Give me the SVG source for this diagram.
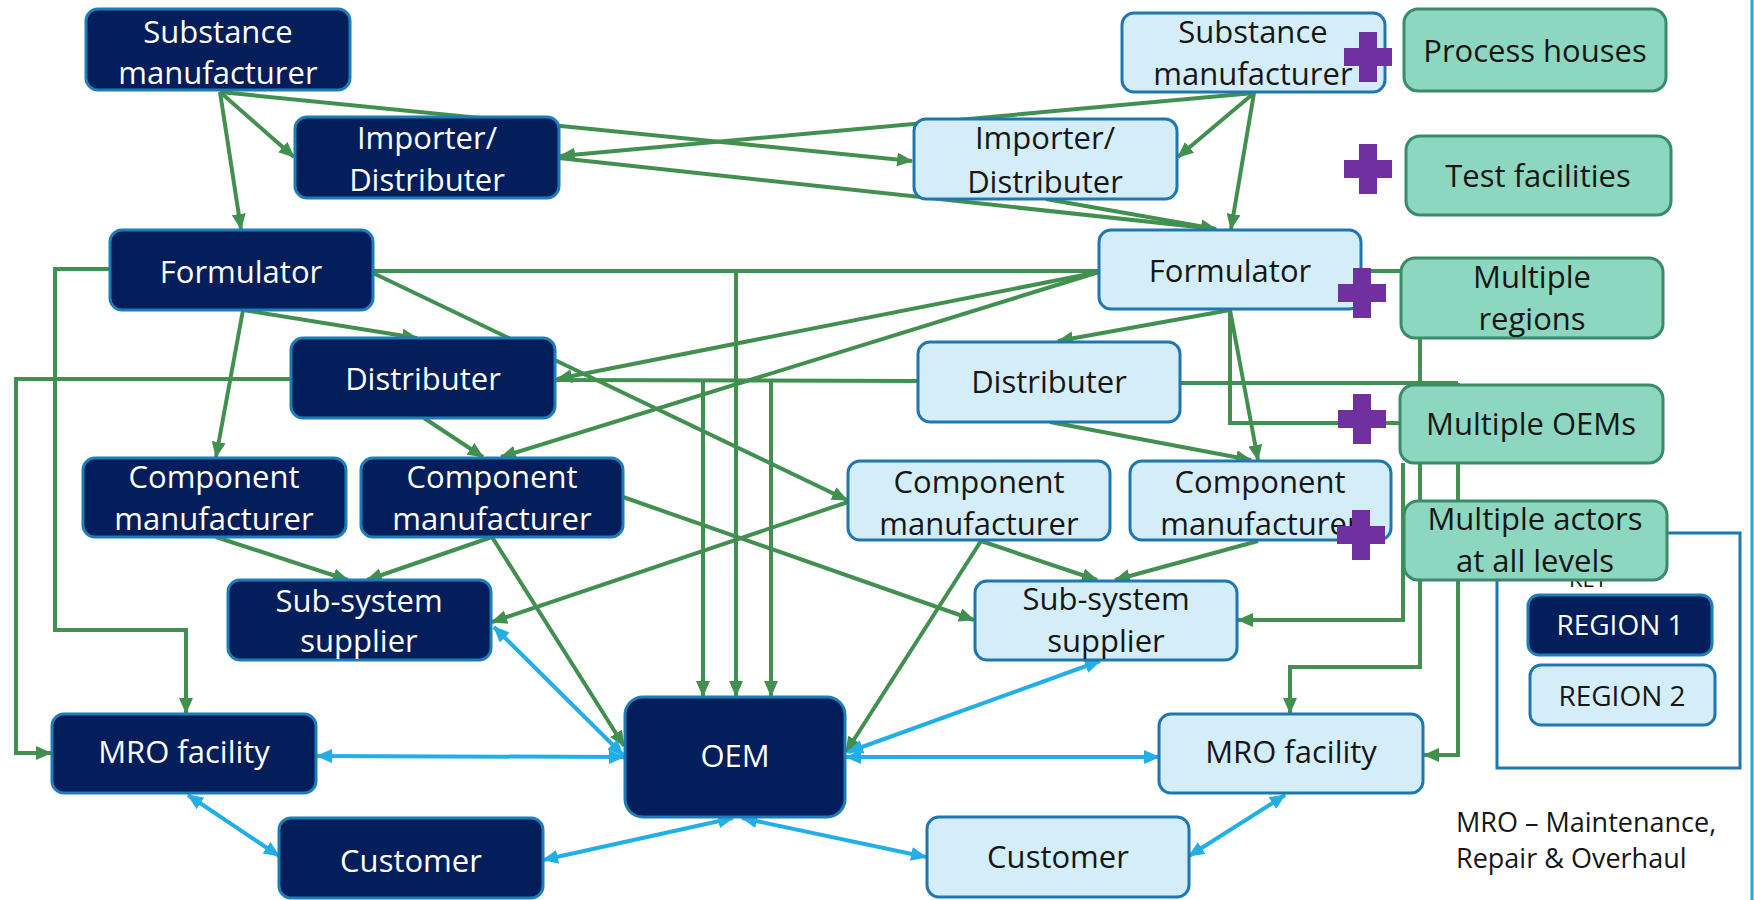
<svg xmlns="http://www.w3.org/2000/svg" width="1754" height="900" viewBox="0 0 1754 900">
<style>
.r1{fill:#031E5B;stroke:#1C7DB8;stroke-width:3}
.r2{fill:#D4EEF9;stroke:#1F77B2;stroke-width:3}
.gb{fill:#8DD6BF;stroke:#3A8C68;stroke-width:3}
.t{font-family:"Open Sans","DejaVu Sans",sans-serif;font-size:31px;text-anchor:middle}
.tw{fill:#FFFFFF}
.tk{fill:#161616}
.g{fill:none;stroke:#41904F;stroke-width:4}
.ga{fill:none;stroke:#41904F;stroke-width:4;marker-end:url(#ag)}
.b{fill:none;stroke:#22AEE6;stroke-width:4;marker-start:url(#ab);marker-end:url(#ab)}
.k{font-family:"Open Sans","DejaVu Sans",sans-serif;font-size:28px;text-anchor:middle}
.ky{font-family:"Open Sans","DejaVu Sans",sans-serif;font-size:22px;text-anchor:middle}
.leg{font-family:"Open Sans","DejaVu Sans",sans-serif;font-size:27px;fill:#161616}
.cross{fill:#7030A0}
</style>
<defs>
<marker id="ag" viewBox="0 0 16 14" refX="15" refY="7" markerWidth="16" markerHeight="14" markerUnits="userSpaceOnUse" orient="auto"><path d="M0,0 L16,7 L0,14 z" fill="#41904F"/></marker>
<marker id="ab" viewBox="0 0 16 14" refX="15" refY="7" markerWidth="16" markerHeight="14" markerUnits="userSpaceOnUse" orient="auto-start-reverse"><path d="M0,0 L16,7 L0,14 z" fill="#22AEE6"/></marker>
<path id="crs" d="M-9,-25 h18 v16 h15 v18 h-15 v16 h-18 v-16 h-15 v-18 h15 z"/>
</defs>
<rect x="0" y="0" width="1754" height="900" fill="#FFFFFF"/>
<line x1="1752" y1="0" x2="1752" y2="900" stroke="#22A8E2" stroke-width="3"/>

<g id="connectors">
<path class="ga" d="M220,92 L241,229"/>
<path class="ga" d="M220,92 L294,157"/>
<path class="ga" d="M220,92 L912,161"/>
<path class="ga" d="M1254,93 L560,156"/>
<path class="ga" d="M559,158 L1216,229"/>
<path class="ga" d="M1254,93 L1178,157"/>
<path class="ga" d="M1254,93 L1231,229"/>
<path class="ga" d="M1046,199 L1216,229"/>
<path class="ga" d="M243,310 L417,338"/>
<path class="ga" d="M243,310 L216,457"/>
<path class="g" d="M373,271 L1099,271"/>
<path class="ga" d="M736,271 L736,696"/>
<path class="ga" d="M373,273 L847,500"/>
<path class="ga" d="M110,269 L55,269 L55,630 L186,630 L186,713"/>
<path class="ga" d="M291,379 L16,379 L16,753 L51,753"/>
<path class="ga" d="M424,418 L483,457"/>
<path class="g" d="M555,380 L918,381"/>
<path class="ga" d="M703,381 L703,696"/>
<path class="ga" d="M771,381 L771,696"/>
<path class="ga" d="M1099,272 L557,379"/>
<path class="ga" d="M1099,272 L501,457"/>
<path class="ga" d="M216,537 L348,580"/>
<path class="ga" d="M492,537 L367,580"/>
<path class="ga" d="M492,537 L624,746"/>
<path class="ga" d="M623,497 L974,620"/>
<path class="ga" d="M848,502 L492,622"/>
<path class="ga" d="M981,541 L846,752"/>
<path class="ga" d="M981,541 L1097,580"/>
<path class="ga" d="M1258,541 L1115,580"/>
<path class="ga" d="M1230,310 L1058,341"/>
<path class="ga" d="M1230,310 L1258,460"/>
<path class="g" d="M1230,310 L1230,423 L1401,423"/>
<path class="g" d="M1361,271 L1401,271"/>
<path class="ga" d="M1050,422 L1251,460"/>
<path class="g" d="M1180,383 L1458,383"/>
<path class="ga" d="M1420,338 L1420,667 L1290,667 L1290,713"/>
<path class="ga" d="M1458,383 L1458,755 L1424,755"/>
<path class="ga" d="M1403,463 L1403,620 L1238,620"/>
<path class="b" d="M494,627 L623,755"/>
<path class="b" d="M317,756 L624,757"/>
<path class="b" d="M188,795 L279,856"/>
<path class="b" d="M543,860 L733,818"/>
<path class="b" d="M742,818 L926,857"/>
<path class="b" d="M846,757 L1159,757"/>
<path class="b" d="M848,752 L1100,661"/>
<path class="b" d="M1285,795 L1189,856"/>
</g>

<g id="key">
<rect x="1497" y="533" width="243" height="235" fill="none" stroke="#1F77B2" stroke-width="3"/>
<text class="ky tk" x="1588" y="587">KEY</text>
</g>
<g id="region1-key"><rect class="r1" x="1528" y="595" width="184" height="60" rx="11"/><text class="k tw" x="1620" y="635">REGION 1</text></g>
<g id="region2-key"><rect class="r2" x="1530" y="665" width="185" height="60" rx="11"/><text class="k tk" x="1622" y="706">REGION 2</text></g>

<g id="r1-substance"><rect class="r1" x="86" y="9" width="264" height="81" rx="12"/><text class="t tw" x="218" y="43">Substance</text><text class="t tw" x="218" y="84">manufacturer</text></g>
<g id="r1-importer"><rect class="r1" x="295" y="117" width="264" height="81" rx="12"/><text class="t tw" x="427" y="149">Importer/</text><text class="t tw" x="427" y="191">Distributer</text></g>
<g id="r1-formulator"><rect class="r1" x="110" y="230" width="263" height="80" rx="12"/><text class="t tw" x="241" y="283">Formulator</text></g>
<g id="r1-distributer"><rect class="r1" x="291" y="338" width="264" height="80" rx="12"/><text class="t tw" x="423" y="390">Distributer</text></g>
<g id="r1-component1"><rect class="r1" x="83" y="458" width="263" height="79" rx="12"/><text class="t tw" x="214" y="488">Component</text><text class="t tw" x="214" y="530">manufacturer</text></g>
<g id="r1-component2"><rect class="r1" x="361" y="458" width="262" height="79" rx="12"/><text class="t tw" x="492" y="488">Component</text><text class="t tw" x="492" y="530">manufacturer</text></g>
<g id="r1-subsystem"><rect class="r1" x="228" y="580" width="263" height="80" rx="12"/><text class="t tw" x="359" y="612">Sub-system</text><text class="t tw" x="359" y="652">supplier</text></g>
<g id="r1-mro"><rect class="r1" x="52" y="714" width="264" height="79" rx="12"/><text class="t tw" x="184" y="763">MRO facility</text></g>
<g id="oem"><rect class="r1" x="625" y="697" width="220" height="120" rx="18"/><text class="t tw" x="735" y="767">OEM</text></g>
<g id="r1-customer"><rect class="r1" x="279" y="818" width="264" height="80" rx="12"/><text class="t tw" x="411" y="872">Customer</text></g>

<g id="r2-substance"><rect class="r2" x="1122" y="13" width="263" height="79" rx="12"/><text class="t tk" x="1253" y="43">Substance</text><text class="t tk" x="1253" y="85">manufacturer</text></g>
<g id="r2-importer"><rect class="r2" x="914" y="119" width="263" height="80" rx="12"/><text class="t tk" x="1045" y="149">Importer/</text><text class="t tk" x="1045" y="193">Distributer</text></g>
<g id="r2-formulator"><rect class="r2" x="1099" y="230" width="262" height="79" rx="12"/><text class="t tk" x="1230" y="282">Formulator</text></g>
<g id="r2-distributer"><rect class="r2" x="918" y="342" width="262" height="80" rx="12"/><text class="t tk" x="1049" y="393">Distributer</text></g>
<g id="r2-component-a"><rect class="r2" x="848" y="461" width="262" height="79" rx="12"/><text class="t tk" x="979" y="493">Component</text><text class="t tk" x="979" y="535">manufacturer</text></g>
<g id="r2-component-b"><rect class="r2" x="1130" y="461" width="261" height="79" rx="12"/><text class="t tk" x="1260" y="493">Component</text><text class="t tk" x="1260" y="535">manufacturer</text></g>
<g id="r2-subsystem"><rect class="r2" x="975" y="581" width="262" height="79" rx="12"/><text class="t tk" x="1106" y="610">Sub-system</text><text class="t tk" x="1106" y="652">supplier</text></g>
<g id="r2-mro"><rect class="r2" x="1159" y="714" width="264" height="79" rx="12"/><text class="t tk" x="1291" y="763">MRO facility</text></g>
<g id="r2-customer"><rect class="r2" x="927" y="817" width="262" height="80" rx="12"/><text class="t tk" x="1058" y="868">Customer</text></g>

<g id="process-houses"><rect class="gb" x="1404" y="9" width="262" height="82" rx="14"/><text class="t tk" x="1535" y="62">Process houses</text></g>
<g id="test-facilities"><rect class="gb" x="1406" y="136" width="265" height="79" rx="14"/><text class="t tk" x="1538" y="187">Test facilities</text></g>
<g id="multiple-regions"><rect class="gb" x="1401" y="258" width="262" height="80" rx="14"/><text class="t tk" x="1532" y="288">Multiple</text><text class="t tk" x="1532" y="330">regions</text></g>
<g id="multiple-oems"><rect class="gb" x="1400" y="385" width="263" height="78" rx="14"/><text class="t tk" x="1531" y="435">Multiple OEMs</text></g>
<g id="multiple-actors"><rect class="gb" x="1404" y="501" width="263" height="79" rx="14"/><text class="t tk" x="1535" y="530">Multiple actors</text><text class="t tk" x="1535" y="572">at all levels</text></g>

<g id="crosses">
<use href="#crs" class="cross" x="1368" y="57"/>
<use href="#crs" class="cross" x="1368" y="169"/>
<use href="#crs" class="cross" x="1362" y="293"/>
<use href="#crs" class="cross" x="1362" y="419"/>
<use href="#crs" class="cross" x="1361" y="535"/>
</g>

<g id="legend">
<text class="leg" x="1456" y="832">MRO – Maintenance,</text>
<text class="leg" x="1456" y="868">Repair &amp; Overhaul</text>
</g>
</svg>
